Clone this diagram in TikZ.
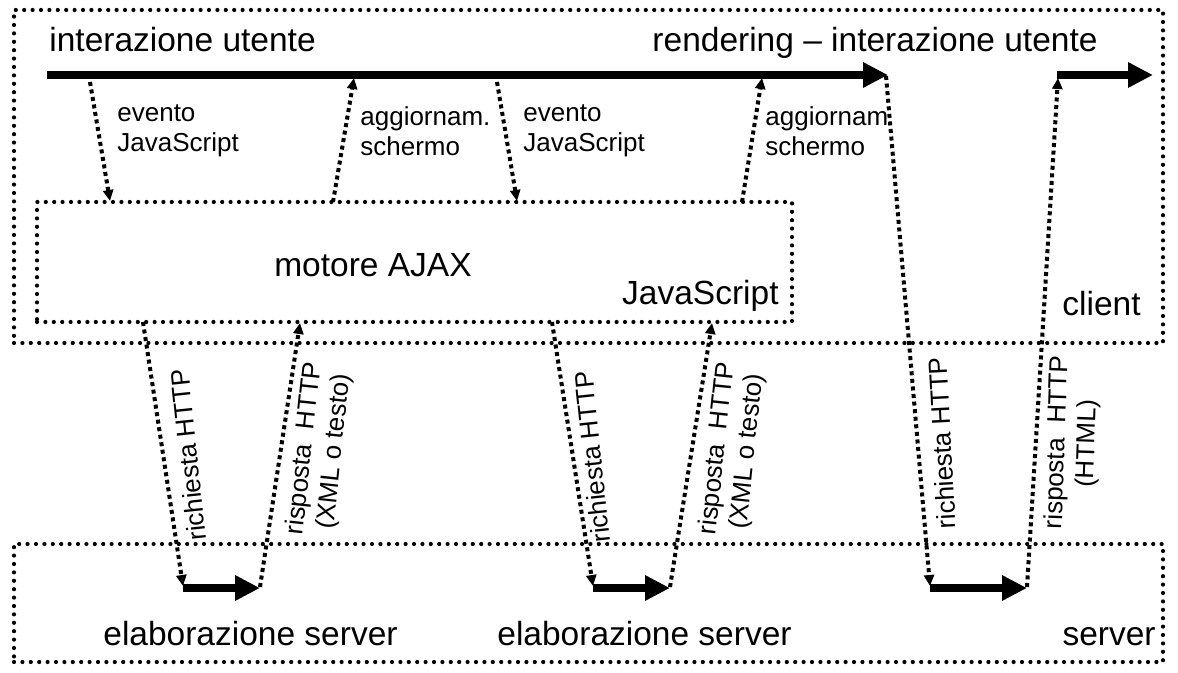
\documentclass[tikz,border=0pt]{standalone}
\usepackage{fontspec}
\setmainfont{Liberation Sans}
\usetikzlibrary{arrows.meta,fit}
\begin{document}
\begin{tikzpicture}[x=0.5pt,y=-0.5pt,
  box/.style={draw, line width=2.1pt, line cap=round, dash pattern=on 0pt off 4.2pt, inner sep=0pt},
  flow/.style={line width=2pt, dash pattern=on 2pt off 1.8pt, -{Triangle[length=5.5pt,width=5pt]}},
  big/.style={line width=4pt, -{Triangle[length=12.5pt,width=12pt]}},
  lab/.style={font=\fontsize{16.75pt}{20pt}\selectfont, inner sep=0pt},
  small/.style={font=\fontsize{13pt}{15pt}\selectfont, inner sep=0pt, align=left},
  vlab/.style={font=\fontsize{13pt}{15pt}\selectfont, inner sep=0pt, align=center},
]
\useasboundingbox (0,0) rectangle (1178,673);
% boxes
\coordinate (c1) at (14,10);   \coordinate (c2) at (1163,343);
\coordinate (s1) at (14,544);  \coordinate (s2) at (1163,662);
\coordinate (a1) at (37,202);  \coordinate (a2) at (792,322);
\node[box, fit=(c1)(c2)] (client) {};
\node[box, fit=(s1)(s2)] (server) {};
\node[box, fit=(a1)(a2)] (ajax) {};
% texts
\node[lab, anchor=base west] (t1) at (49,52) {interazione utente};
\node[lab, anchor=base east] (t2) at (1098,52) {rendering -- interazione utente};
\node[lab] (t3) at (373,265) {motore AJAX};
\node[lab, anchor=base east] (t4) at (779,305) {JavaScript};
\node[lab, anchor=base east] (t5) at (1141,316) {client};
\node[lab, anchor=base west] (t6) at (103,645) {elaborazione server};
\node[lab, anchor=base west] (t7) at (497,645) {elaborazione server};
\node[lab, anchor=base east] (t8) at (1156,645) {server};
\node[small, anchor=west] (l1) at (117,131) {evento\\JavaScript};
\node[small, anchor=west] (l2) at (360,131) {aggiornam.\\schermo};
\node[small, anchor=west] (l3) at (523,131) {evento\\JavaScript};
\node[small, anchor=west] (l4) at (765,131) {aggiornam\\schermo};
\node[vlab, rotate=96] (r1) at (188,455) {richiesta HTTP};
\node[vlab, rotate=84] (r2) at (320,450) {risposta\ \ HTTP\\(XML o testo)};
\node[vlab, rotate=96] (r3) at (592,457) {richiesta HTTP};
\node[vlab, rotate=84] (r4) at (733,450) {risposta\ \ HTTP\\(XML o testo)};
\node[vlab, rotate=93] (r5) at (942,443) {richiesta HTTP};
\node[vlab, rotate=88] (r6) at (1073,443) {risposta\ \ HTTP\\(HTML)};
% timeline
\coordinate (tl0) at (47,75);  \coordinate (tl1) at (888,75);
\coordinate (tr0) at (1057,75); \coordinate (tr1) at (1153,75);
\draw[big] (tl0) -- (tl1);
\draw[big] (tr0) -- (tr1);
% server processing arrows
\coordinate (p1a) at (183,588); \coordinate (p1b) at (260,588);
\coordinate (p2a) at (593,588); \coordinate (p2b) at (670,588);
\coordinate (p3a) at (930,588); \coordinate (p3b) at (1027,588);
\draw[big] (p1a) -- (p1b);
\draw[big] (p2a) -- (p2b);
\draw[big] (p3a) -- (p3b);
% client-side flows
\coordinate (f1a) at (90,82);  \coordinate (f1b) at (110,201);
\coordinate (f2a) at (333,202); \coordinate (f2b) at (354,78);
\coordinate (f3a) at (497,82); \coordinate (f3b) at (517,201);
\coordinate (f4a) at (742,202); \coordinate (f4b) at (762,78);
\draw[flow] (f1a) -- (f1b);
\draw[flow] (f2a) -- (f2b);
\draw[flow] (f3a) -- (f3b);
\draw[flow] (f4a) -- (f4b);
% HTTP flows
\coordinate (h1a) at (143,322); \coordinate (h1b) at (183,586);
\coordinate (h2a) at (260,587); \coordinate (h2b) at (300,323);
\coordinate (h3a) at (552,322); \coordinate (h3b) at (593,586);
\coordinate (h4a) at (670,587); \coordinate (h4b) at (712,323);
\coordinate (h5a) at (886,76);  \coordinate (h5b) at (930,586);
\coordinate (h6a) at (1027,587); \coordinate (h6b) at (1058,78);
\draw[flow] (h1a) -- (h1b);
\draw[flow] (h2a) -- (h2b);
\draw[flow] (h3a) -- (h3b);
\draw[flow] (h4a) -- (h4b);
\draw[flow] (h5a) -- (h5b);
\draw[flow] (h6a) -- (h6b);
\end{tikzpicture}
\end{document}
